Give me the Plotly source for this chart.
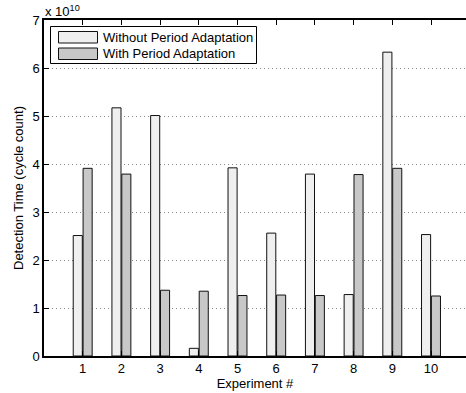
import plotly.graph_objects as go

experiments = [1, 2, 3, 4, 5, 6, 7, 8, 9, 10]
without_adapt = [2.51, 5.17, 5.01, 0.16, 3.92, 2.56, 3.79, 1.28, 6.33, 2.53]
with_adapt = [3.91, 3.79, 1.37, 1.35, 1.26, 1.27, 1.26, 3.78, 3.91, 1.25]
series_names = ["Without Period Adaptation", "With Period Adaptation"]
y_ticks = [0, 1, 2, 3, 4, 5, 6, 7]

W, H = 466, 393
L, R, T, B = 44, 0, 20, 37
pw, ph = W - L - R, H - T - B

colors = ["#efefef", "#c8c8c8"]
FONT = "Liberation Sans, Arial, Helvetica, sans-serif"
FS = 13

fig = go.Figure()
for name, vals, col in zip(series_names, [without_adapt, with_adapt], colors):
    fig.add_trace(go.Bar(
        x=experiments, y=vals, name=name,
        marker=dict(color=col, line=dict(color="#111111", width=1)),
        showlegend=False,
    ))

def px(x):
    return (x - L) / pw

def py(y):
    return (H - B - y) / ph

shapes = []
annotations = []
# legend box
shapes.append(dict(type="rect", xref="paper", yref="paper",
                   x0=px(50.5), x1=px(256.5), y0=py(63.5), y1=py(26.5),
                   line=dict(color="black", width=1), fillcolor="white", layer="above"))
for i, (name, col) in enumerate(zip(series_names, colors)):
    y0 = 31.5 + i * 16.5
    shapes.append(dict(type="rect", xref="paper", yref="paper",
                       x0=px(58.5), x1=px(97.5), y0=py(y0 + 11.5), y1=py(y0),
                       line=dict(color="#111111", width=1), fillcolor=col, layer="above"))
    annotations.append(dict(xref="paper", yref="paper", x=px(101), y=py(y0 + 6),
                            text=name, showarrow=False, xanchor="left", yanchor="middle",
                            font=dict(family=FONT, size=FS, color="black")))

annotations.append(dict(xref="paper", yref="paper", x=px(43), y=py(11), text="x 10<sup>10</sup>",
                        showarrow=False, xanchor="left", yanchor="middle",
                        font=dict(family=FONT, size=FS, color="black")))

fig.update_layout(
    width=W, height=H,
    margin=dict(l=L, r=R, t=T, b=B, pad=0),
    paper_bgcolor="white", plot_bgcolor="white",
    barmode="group", bargap=0.49, bargroupgap=0.08,
    font=dict(family=FONT, size=FS, color="black"),
    shapes=shapes, annotations=annotations,
    xaxis=dict(
        range=[0, pw / 38.7], tickvals=experiments, ticktext=[str(e) for e in experiments],
        ticks="inside", ticklen=5, tickcolor="black", mirror="ticks",
        showline=True, linecolor="black", linewidth=1.5, showgrid=False, zeroline=False,
        title=dict(text="Experiment #", font=dict(size=FS), standoff=2),
        tickfont=dict(size=FS),
    ),
    yaxis=dict(
        range=[0, 7], tickvals=y_ticks, ticktext=[str(v) for v in y_ticks],
        ticks="inside", ticklen=5, tickcolor="black",
        showline=True, linecolor="black", linewidth=1.5,
        showgrid=True, gridcolor="#888888", griddash="1px,3px", gridwidth=1, zeroline=False,
        title=dict(text="Detection Time (cycle count)", font=dict(size=FS), standoff=6),
        tickfont=dict(size=FS),
    ),
)

fig.write_html("out.html", config={"displayModeBar": False},
               post_script="document.body.style.margin='0px';document.body.style.overflow='hidden';")
